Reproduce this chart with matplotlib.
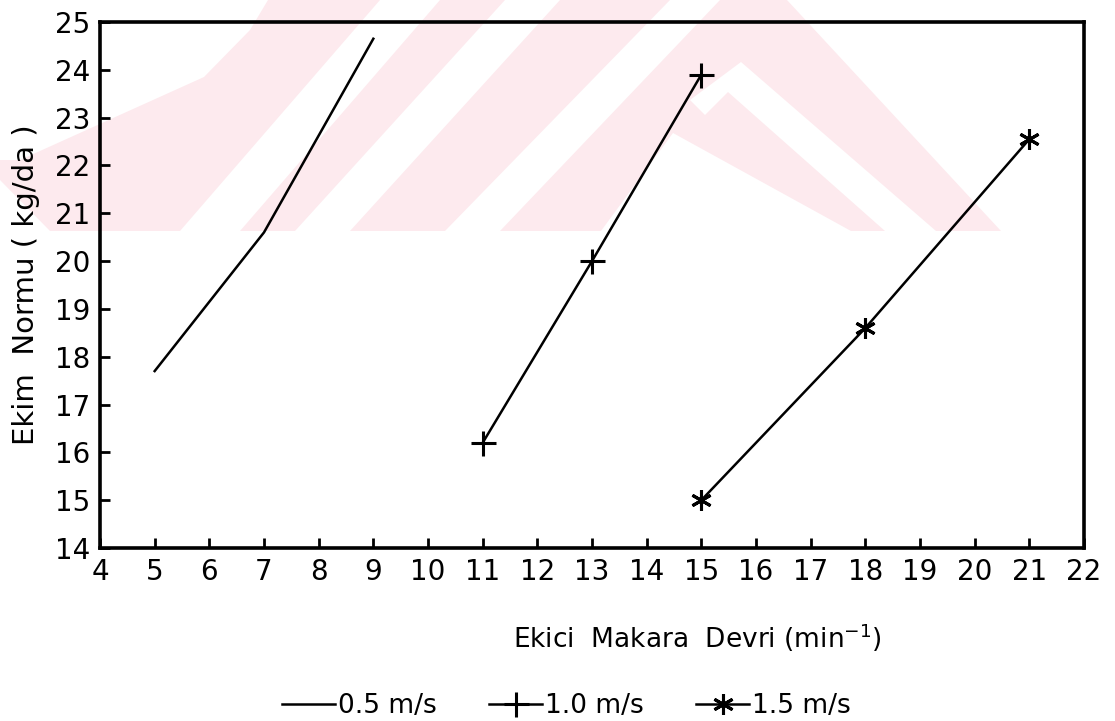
import matplotlib
matplotlib.use("Agg")
import matplotlib.pyplot as plt
from matplotlib.patches import Polygon

# data
rpm_05 = [5, 7, 9]
norm_05 = [17.7, 20.6, 24.65]
rpm_10 = [11, 13, 15]
norm_10 = [16.2, 20.0, 23.9]
rpm_15 = [15, 18, 21]
norm_15 = [15.0, 18.6, 22.55]
labels = ["0.5 m/s", "1.0 m/s", "1.5 m/s"]
xticks = list(range(4, 23))
yticks = list(range(14, 26))

plt.rcParams['font.family'] = ['DejaVu Sans']

fig = plt.figure(figsize=(11.15, 7.21), dpi=100)

# faint pink watermark behind the scan (pixel coords, y down)
bg = fig.add_axes([0, 0, 1, 1], zorder=0)
bg.set_xlim(0, 1115)
bg.set_ylim(721, 0)
bg.axis('off')
pink = '#fdeaee'
bg.add_patch(Polygon([(0, 0), (787, 0), (1001, 231), (50, 231), (0, 180)],
                     closed=True, fc=pink, ec='none'))
white_bits = [
    [(0, 0), (268, 0), (250, 30), (204, 77), (20, 160), (0, 160)],
    [(380, 0), (440, 0), (240, 231), (180, 231)],
    [(505, 0), (560, 0), (350, 231), (295, 231)],
    [(670, 0), (720, 0), (500, 231), (445, 231)],
    [(741, 62), (936, 231), (885, 231), (728, 92), (705, 115), (690, 100)],
    [(673, 133), (851, 231), (601, 231)],
]
for pts in white_bits:
    bg.add_patch(Polygon(pts, closed=True, fc='white', ec='none'))

ax = fig.add_axes([100/1115, 1 - 548/721, 984/1115, 526/721], zorder=1)
ax.patch.set_alpha(0)

ax.plot(rpm_05, norm_05, color='black', lw=1.8, label=labels[0])
ax.plot(rpm_10, norm_10, color='black', lw=1.8, marker='+', ms=18, mew=2.2,
        label=labels[1])
ax.plot(rpm_15, norm_15, color='black', lw=1.8, marker=(6, 2, 0), ms=15, mew=2.2,
        label=labels[2])

ax.set_xlim(4, 22)
ax.set_ylim(14, 25)
ax.set_xticks(xticks)
ax.set_yticks(yticks)
ax.tick_params(direction='in', length=7, width=2, labelsize=20, pad=7)
for s in ax.spines.values():
    s.set_linewidth(2.6)

ax.set_xlabel("Ekici  Makara  Devri (min$^{-1}$)", fontsize=19)
ax.xaxis.set_label_coords(0.607, -0.14)
ax.set_ylabel("Ekim  Normu ( kg/da )", fontsize=21)
ax.yaxis.set_label_coords(-0.061, 0.5)

fig.legend(loc='lower center', bbox_to_anchor=(0.508, -0.03), ncol=3,
           frameon=False, fontsize=19, handlelength=2.0, handletextpad=0.1,
           columnspacing=2.0)

fig.savefig("out.png", dpi=100)
